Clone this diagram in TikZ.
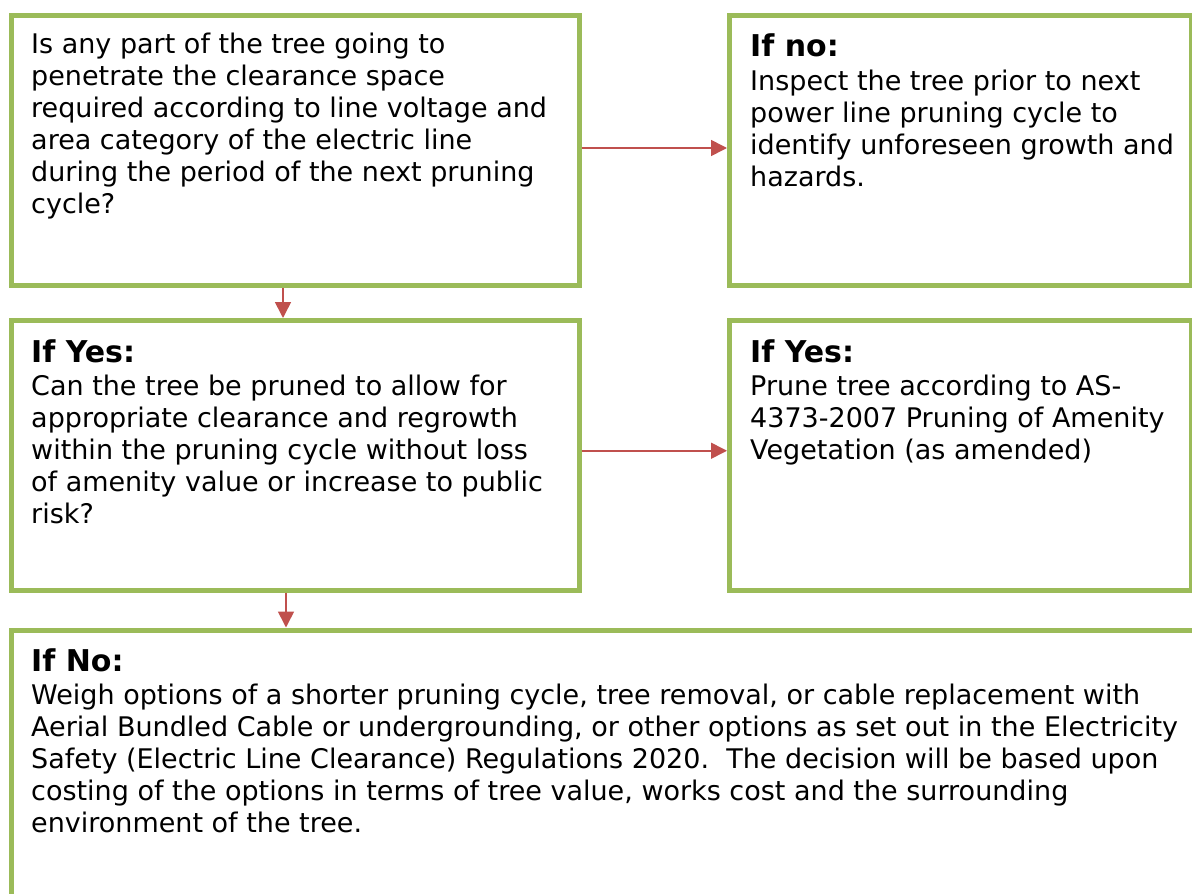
\documentclass[tikz,border=0pt]{standalone}
\usepackage{fontspec}
\setmainfont{DejaVu Sans}
\usetikzlibrary{arrows.meta}

\definecolor{leafgreen}{HTML}{9BBB59}
\definecolor{brickred}{HTML}{C0504D}
\newcommand{\headline}[1]{{\fontsize{30}{32}\selectfont\bfseries #1}}

\begin{document}
\begin{tikzpicture}[x=1pt, y=-1pt,
  box/.style={draw=leafgreen, line width=5pt, inner sep=0pt},
  txt/.style={anchor=north west, align=left, inner sep=0pt, font=\fontsize{27}{32}\selectfont},
  arr/.style={draw=brickred, line width=1.6pt, -{Triangle[length=16pt,width=16pt]}}]

\useasboundingbox (0,0) rectangle (1192,894);
\clip (0,0) rectangle (1192,894);

% boxes
\node[box, minimum width=568pt, minimum height=270pt] (question) at (295,150.5) {};
\node[box, minimum width=462pt, minimum height=270pt] (inspect) at (960.5,150.5) {};
\node[box, minimum width=568pt, minimum height=269.5pt] (canprune) at (295,455.25) {};
\node[box, minimum width=462pt, minimum height=269.5pt] (prune) at (960.5,455.25) {};
\node[box, minimum width=1300pt, minimum height=400pt] (options) at (661,830) {};

% texts
\node[txt] (questiontext) at (31,33) {Is any part of the tree going to\\
penetrate the clearance space\\
required according to line voltage and\\
area category of the electric line\\
during the period of the next pruning\\
cycle?};

\node[txt] (inspecttext) at (750,34) {\headline{If no:}\\[2pt]
Inspect the tree prior to next\\
power line pruning cycle to\\
identify unforeseen growth and\\
hazards.};

\node[txt] (canprunetext) at (31,340) {\headline{If Yes:}\\[1pt]
Can the tree be pruned to allow for\\
appropriate clearance and regrowth\\
within the pruning cycle without loss\\
of amenity value or increase to public\\
risk?};

\node[txt] (prunetext) at (750,340) {\headline{If Yes:}\\[1pt]
Prune tree according to AS-\\
4373-2007 Pruning of Amenity\\
Vegetation (as amended)};

\node[txt] (optionstext) at (31,648) {\headline{If No:}\\[1pt]
Weigh options of a shorter pruning cycle, tree removal, or cable replacement with\\
Aerial Bundled Cable or undergrounding, or other options as set out in the Electricity\\
Safety (Electric Line Clearance) Regulations 2020.\ \ The decision will be based upon\\
costing of the options in terms of tree value, works cost and the surrounding\\
environment of the tree.};

% arrows
\draw[arr] ([yshift=2.5pt]question.east) -- ([yshift=2.5pt]inspect.west);
\draw[arr] ([xshift=-12pt]question.south) -- ([xshift=-12pt]canprune.north);
\draw[arr] ([yshift=4.5pt]canprune.east) -- ([yshift=4.5pt]prune.west);
\draw[arr] ([xshift=-9pt]canprune.south) -- ([xshift=-9pt]options.north -| canprune.south);

\end{tikzpicture}
\end{document}
